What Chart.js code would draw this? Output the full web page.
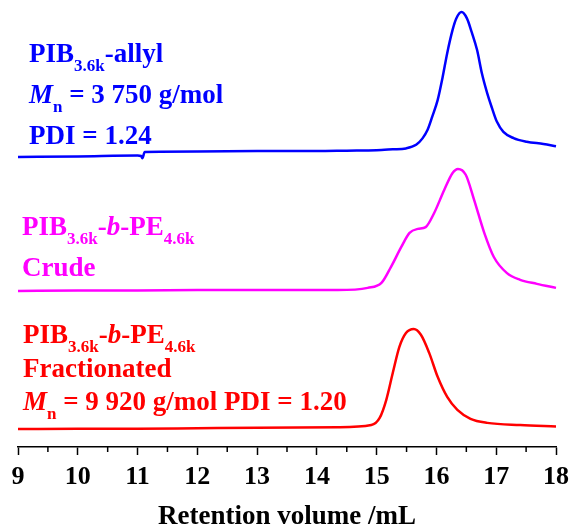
<!DOCTYPE html>
<html>
<head>
<meta charset="utf-8">
<script src="https://cdn.jsdelivr.net/npm/chart.js@4.4.0/dist/chart.umd.min.js"></script>
<style>
  html, body { margin: 0; padding: 0; background: #fff; }
  #wrap { width: 576px; height: 529px; position: relative; }
</style>
</head>
<body>
<div id="wrap"><canvas id="gpc"></canvas></div>
<script>
// Retention volume (mL) and stacked, offset detector signal (a.u., 0-100)
const allylVol = [9.0, 10.0, 11.0, 11.06, 11.08, 11.12, 12.0, 13.0, 14.0, 14.5, 15.0, 15.27, 15.49, 15.66, 15.77, 15.85, 15.93, 16.02, 16.10, 16.18, 16.27, 16.33, 16.42, 16.51, 16.59, 16.68, 16.76, 16.85, 16.93, 17.01, 17.12, 17.29, 17.51, 17.79, 18.0];
const allylSig = [64.9, 65.0, 65.2, 65.1, 64.6, 66.0, 66.1, 66.2, 66.2, 66.3, 66.4, 66.6, 66.8, 67.6, 69.1, 70.9, 73.9, 77.6, 82.5, 88.1, 93.3, 95.8, 97.3, 95.9, 92.8, 88.8, 83.6, 79.1, 75.8, 72.8, 70.5, 69.1, 68.3, 67.8, 67.3];

const crudeVol = [9.0, 10.0, 11.0, 12.0, 13.0, 14.35, 14.85, 15.08, 15.24, 15.41, 15.55, 15.69, 15.82, 15.96, 16.13, 16.27, 16.36, 16.49, 16.63, 16.80, 16.96, 17.18, 17.40, 17.68, 18.0];
const crudeSig = [34.9, 35.0, 35.0, 35.1, 35.1, 35.1, 35.6, 36.7, 40.3, 44.7, 47.9, 48.8, 49.2, 52.3, 57.5, 61.3, 62.2, 60.9, 55.3, 47.9, 42.5, 38.9, 37.4, 36.5, 35.6];

const fracVol = [9.0, 10.0, 11.0, 12.0, 13.0, 14.35, 14.91, 15.05, 15.16, 15.27, 15.38, 15.49, 15.62, 15.74, 15.88, 16.02, 16.18, 16.35, 16.57, 16.85, 17.40, 18.0];
const fracSig = [4.0, 4.1, 4.1, 4.2, 4.3, 4.4, 4.9, 6.5, 10.5, 16.6, 22.4, 25.5, 26.4, 25.1, 21.0, 15.7, 11.2, 8.3, 6.3, 5.4, 4.9, 4.6];

const xTicks = [9, 10, 11, 12, 13, 14, 15, 16, 17, 18];
const xTitle = 'Retention volume /mL';

// annotation text: [text, style] with style '' bold, 'i' bold italic, 's' subscript
const allylText = [
  [['PIB', ''], ['3.6k', 's'], ['-allyl', '']],
  [['M', 'i'], ['n', 's'], [' = 3 750 g/mol', '']],
  [['PDI = 1.24', '']]
];
const crudeText = [
  [['PIB', ''], ['3.6k', 's'], ['-', ''], ['b', 'i'], ['-PE', ''], ['4.6k', 's']],
  [['Crude', '']]
];
const fracText = [
  [['PIB', ''], ['3.6k', 's'], ['-', ''], ['b', 'i'], ['-PE', ''], ['4.6k', 's']],
  [['Fractionated', '']],
  [['M', 'i'], ['n', 's'], [' = 9 920 g/mol PDI = 1.20', '']]
];

const SERIF = '"Liberation Serif", "Times New Roman", serif';

function pts(xs, ys) {
  return xs.map((x, i) => ({ x: x, y: ys[i] }));
}

function drawRich(ctx, x, y, segs, color) {
  ctx.fillStyle = color;
  ctx.textBaseline = 'alphabetic';
  ctx.textAlign = 'left';
  segs.forEach(seg => {
    const txt = seg[0], st = seg[1];
    let dy = 0;
    if (st === 's') {
      ctx.font = 'bold 17px ' + SERIF;
      dy = 9;
    } else if (st === 'i') {
      ctx.font = 'italic bold 27px ' + SERIF;
    } else {
      ctx.font = 'bold 27px ' + SERIF;
    }
    ctx.fillText(txt, x, y + dy);
    x += ctx.measureText(txt).width;
  });
}

const annotations = {
  id: 'annotations',
  afterDraw(chart) {
    const ctx = chart.ctx;
    const xs = chart.scales.x;
    ctx.save();
    // minor ticks at half steps
    ctx.strokeStyle = '#000';
    ctx.lineWidth = 1.5;
    const bottom = chart.chartArea.bottom;
    for (let v = 9.5; v < 18; v += 1) {
      const px = xs.getPixelForValue(v);
      ctx.beginPath();
      ctx.moveTo(px, bottom);
      ctx.lineTo(px, bottom + 5);
      ctx.stroke();
    }
    // labels
    allylText.forEach((line, i) => drawRich(ctx, 29, 62 + i * 41, line, '#0000FF'));
    crudeText.forEach((line, i) => drawRich(ctx, 22, 235 + i * 41, line, '#FF00FF'));
    fracText.forEach((line, i) => drawRich(ctx, 23, 343 + i * 33.5, line, '#FF0000'));
    ctx.restore();
  }
};

const lineStyle = {
  borderWidth: 2.5,
  pointRadius: 0,
  cubicInterpolationMode: 'monotone',
  fill: false,
  clip: false
};

new Chart(document.getElementById('gpc'), {
  type: 'line',
  data: {
    datasets: [
      Object.assign({ label: 'PIB-allyl', data: pts(allylVol, allylSig), borderColor: '#0000FF' }, lineStyle),
      Object.assign({ label: 'Crude', data: pts(crudeVol, crudeSig), borderColor: '#FF00FF' }, lineStyle),
      Object.assign({ label: 'Fractionated', data: pts(fracVol, fracSig), borderColor: '#FF0000' }, lineStyle)
    ]
  },
  options: {
    responsive: true,
    maintainAspectRatio: false,
    animation: false,
    layout: { padding: { left: 18, right: 17, top: 0, bottom: 0 } },
    plugins: {
      legend: { display: false },
      tooltip: { enabled: false }
    },
    scales: {
      x: {
        type: 'linear',
        min: 9,
        max: 18,
        afterBuildTicks: axis => { axis.ticks = xTicks.map(v => ({ value: v })); },
        afterFit: axis => { axis.height = 82; },
        ticks: {
          color: '#000',
          padding: 7,
          maxRotation: 0,
          font: { family: SERIF, size: 26, weight: 'bold' }
        },
        grid: {
          drawOnChartArea: false,
          drawTicks: true,
          tickLength: 8,
          tickColor: '#000',
          tickWidth: 1.5
        },
        border: { color: '#000', width: 1.5 },
        title: {
          display: true,
          text: xTitle,
          color: '#000',
          padding: { top: 7, bottom: 0 },
          font: { family: SERIF, size: 27, weight: 'bold', lineHeight: 0.9 }
        }
      },
      y: {
        display: false,
        min: 0,
        max: 100
      }
    }
  },
  plugins: [annotations]
});
</script>
</body>
</html>
